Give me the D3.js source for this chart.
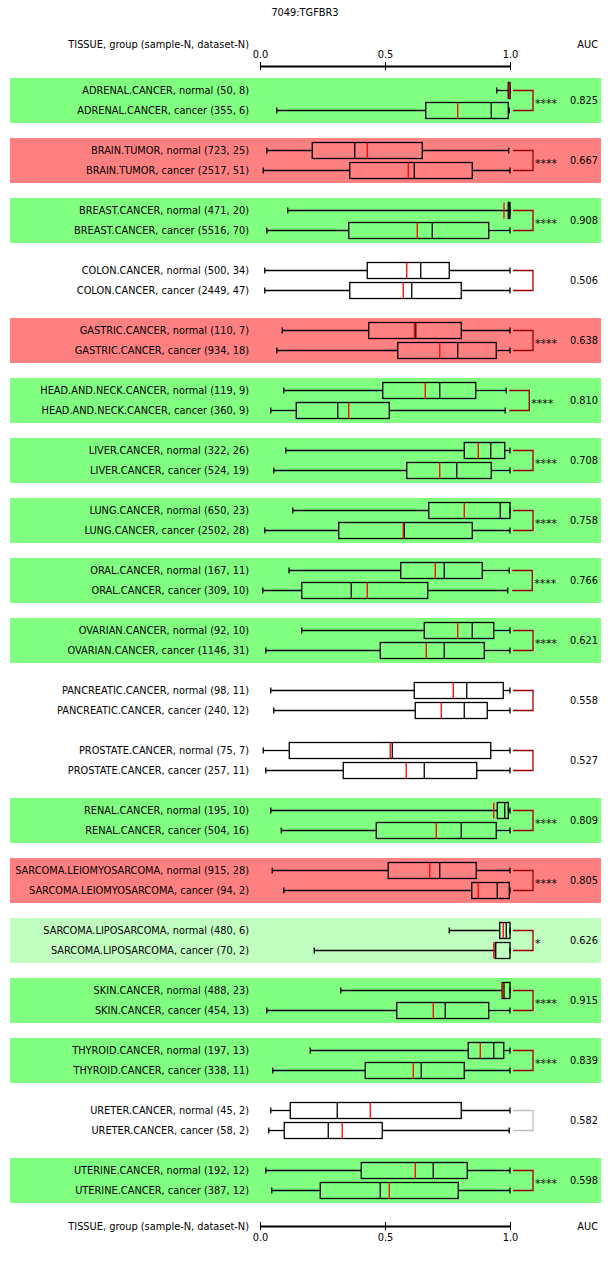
<!DOCTYPE html>
<html>
<head>
<meta charset="utf-8">
<title>7049:TGFBR3</title>
<script src="https://cdn.jsdelivr.net/npm/d3@7"></script>
<style>
  body { margin: 0; background: #fff; }
  svg { display: block; font-family: "DejaVu Sans", sans-serif; }
</style>
</head>
<body>
<div id="chart"></div>
<script>
// Data
const tissues = ["ADRENAL.CANCER", "BRAIN.TUMOR", "BREAST.CANCER", "COLON.CANCER", "GASTRIC.CANCER",
  "HEAD.AND.NECK.CANCER", "LIVER.CANCER", "LUNG.CANCER", "ORAL.CANCER", "OVARIAN.CANCER",
  "PANCREATIC.CANCER", "PROSTATE.CANCER", "RENAL.CANCER", "SARCOMA.LEIOMYOSARCOMA", "SARCOMA.LIPOSARCOMA",
  "SKIN.CANCER", "THYROID.CANCER", "URETER.CANCER", "UTERINE.CANCER"];
const normalN = ["50, 8", "723, 25", "471, 20", "500, 34", "110, 7", "119, 9", "322, 26", "650, 23", "167, 11", "92, 10",
  "98, 11", "75, 7", "195, 10", "915, 28", "480, 6", "488, 23", "197, 13", "45, 2", "192, 12"];
const cancerN = ["355, 6", "2517, 51", "5516, 70", "2449, 47", "934, 18", "360, 9", "524, 19", "2502, 28", "309, 10", "1146, 31",
  "240, 12", "257, 11", "504, 16", "94, 2", "70, 2", "454, 13", "338, 11", "58, 2", "387, 12"];
// [min, q1, median, q3, max, mean]
const normalBox = [
  [0.947, 0.993, 0.998, 1.0, 1.0, 0.997],
  [0.027, 0.209, 0.379, 0.649, 0.995, 0.429],
  [0.111, 0.993, 0.997, 1.0, 1.0, 0.976],
  [0.019, 0.429, 0.643, 0.757, 1.0, 0.587],
  [0.089, 0.435, 0.623, 0.805, 1.0, 0.617],
  [0.095, 0.491, 0.719, 0.863, 0.985, 0.661],
  [0.103, 0.817, 0.923, 0.979, 1.0, 0.873],
  [0.131, 0.675, 0.961, 1.0, 1.0, 0.817],
  [0.116, 0.563, 0.737, 0.889, 0.997, 0.701],
  [0.167, 0.657, 0.849, 0.935, 1.0, 0.791],
  [0.043, 0.617, 0.827, 0.973, 1.0, 0.773],
  [0.013, 0.117, 0.529, 0.923, 1.0, 0.521],
  [0.043, 0.949, 0.979, 0.993, 1.0, 0.935],
  [0.049, 0.513, 0.719, 0.865, 1.0, 0.679],
  [0.757, 0.959, 0.985, 1.0, 1.0, 0.973],
  [0.323, 0.969, 0.976, 1.0, 1.0, 0.969],
  [0.201, 0.833, 0.935, 0.975, 1.0, 0.881],
  [0.043, 0.121, 0.309, 0.805, 1.0, 0.441],
  [0.023, 0.405, 0.693, 0.829, 1.0, 0.621]
];
const cancerBox = [
  [0.067, 0.663, 0.925, 0.993, 0.997, 0.791],
  [0.013, 0.359, 0.617, 0.849, 1.0, 0.593],
  [0.027, 0.355, 0.689, 0.915, 1.0, 0.629],
  [0.019, 0.359, 0.607, 0.805, 1.0, 0.573],
  [0.067, 0.551, 0.791, 0.945, 1.0, 0.719],
  [0.043, 0.145, 0.311, 0.517, 0.981, 0.355],
  [0.055, 0.587, 0.787, 0.925, 1.0, 0.719],
  [0.019, 0.315, 0.577, 0.849, 1.0, 0.573],
  [0.011, 0.167, 0.365, 0.671, 0.991, 0.429],
  [0.023, 0.481, 0.737, 0.897, 1.0, 0.665],
  [0.055, 0.621, 0.817, 0.909, 1.0, 0.725],
  [0.023, 0.333, 0.657, 0.867, 1.0, 0.585],
  [0.085, 0.465, 0.805, 0.945, 1.0, 0.705],
  [0.095, 0.847, 0.949, 0.997, 1.0, 0.873],
  [0.217, 0.941, 0.943, 1.0, 1.0, 0.935],
  [0.027, 0.547, 0.741, 0.915, 1.0, 0.693],
  [0.051, 0.421, 0.645, 0.817, 1.0, 0.613],
  [0.035, 0.097, 0.273, 0.489, 0.997, 0.329],
  [0.047, 0.241, 0.481, 0.793, 1.0, 0.517]
];
const aucValues = [0.825, 0.667, 0.908, 0.506, 0.638, 0.810, 0.708, 0.758, 0.766, 0.621,
  0.558, 0.527, 0.809, 0.805, 0.626, 0.915, 0.839, 0.582, 0.598];
const signif = ["****", "****", "****", "", "****", "****", "****", "****", "****", "****",
  "", "", "****", "****", "*", "****", "****", "na", "****"];
// which group is higher: "normal", "cancer", "normal-weak", "none"
const direction = ["normal", "cancer", "normal", "none", "cancer", "normal", "normal", "normal", "normal", "normal",
  "none", "none", "normal", "cancer", "normal-weak", "normal", "normal", "none", "normal"];
const axisTicks = [0, 0.5, 1.0];

const W = 610, H = 1270;
const FS = 9.8;
const bgColor = { "normal": "#80ff80", "cancer": "#ff8080", "normal-weak": "#c0ffc0", "none": "#ffffff" };

const svg = d3.select("#chart").append("svg")
  .attr("width", W).attr("height", H);

const x = d3.scaleLinear().domain([0, 1]).range([260, 510]);
const y = d3.scaleBand().domain(tissues).range([78, 1203]).paddingInner(0.25).paddingOuter(0);

// Title
svg.append("text").attr("x", 305).attr("y", 16).attr("text-anchor", "middle")
  .attr("font-size", FS).text("7049:TGFBR3");

// Header / footer labels + axes
function headerRow(yAxis, axisGen, labelY) {
  svg.append("text").attr("x", 249).attr("y", labelY).attr("text-anchor", "end")
    .attr("font-size", FS).text("TISSUE, group (sample-N, dataset-N)");
  svg.append("text").attr("x", 598).attr("y", labelY).attr("text-anchor", "end")
    .attr("font-size", FS).text("AUC");
  const g = svg.append("g").attr("transform", `translate(0,${yAxis})`)
    .call(axisGen.scale(x).tickValues(axisTicks).tickFormat(d3.format(".1f")).tickSize(4).tickSizeOuter(0).tickPadding(4));
  g.select(".domain").attr("stroke", "#000").attr("stroke-width", 2);
  g.selectAll(".tick line").attr("y1", -4).attr("y2", 4).attr("stroke", "#000");
  g.selectAll("text").attr("font-size", FS).attr("font-family", "DejaVu Sans, sans-serif").attr("fill", "#000");
}
headerRow(66, d3.axisTop(), 48);
headerRow(1226, d3.axisBottom(), 1230);

// Panels
const panels = svg.selectAll("g.panel").data(tissues).enter().append("g")
  .attr("class", "panel")
  .attr("transform", d => `translate(0,${y(d)})`);

panels.append("rect").attr("x", 10).attr("y", 0).attr("width", 591).attr("height", y.bandwidth())
  .attr("fill", (d, i) => bgColor[direction[i]]);

panels.each(function(t, i) {
  const g = d3.select(this);
  const rows = [
    { label: `${t}, normal (${normalN[i]})`, s: normalBox[i], cy: 12.5 },
    { label: `${t}, cancer (${cancerN[i]})`, s: cancerBox[i], cy: 32.5 }
  ];
  rows.forEach(r => {
    const [mn, q1, med, q3, mx, mean] = r.s;
    g.append("text").attr("x", 249).attr("y", r.cy + 3.5).attr("text-anchor", "end")
      .attr("font-size", FS).text(r.label);
    const line = (x1, y1, x2, y2, c) => g.append("line")
      .attr("x1", x1).attr("y1", y1).attr("x2", x2).attr("y2", y2)
      .attr("stroke", c || "#000").attr("stroke-width", 1.3);
    line(x(mn), r.cy, x(q1), r.cy);
    line(x(q3), r.cy, x(mx), r.cy);
    line(x(mn), r.cy - 3, x(mn), r.cy + 3);
    line(x(mx), r.cy - 3, x(mx), r.cy + 3);
    g.append("rect").attr("x", x(q1)).attr("y", r.cy - 8)
      .attr("width", Math.max(x(q3) - x(q1), 0.5)).attr("height", 16)
      .attr("fill", "none").attr("stroke", "#000").attr("stroke-width", 1.3);
    line(x(med), r.cy - 8, x(med), r.cy + 8);
    line(x(mean), r.cy - 8, x(mean), r.cy + 8, "#ff0000");
  });

  // bracket
  const bx = x(Math.max(normalBox[i][4], cancerBox[i][4])) + 3;
  g.append("path")
    .attr("d", `M${bx},12.5H${bx + 20}V32.5H${bx}`)
    .attr("fill", "none")
    .attr("stroke", signif[i] === "na" ? "#c0c0c0" : "#990000")
    .attr("stroke-width", 1.3);
  if (signif[i] && signif[i] !== "na") {
    g.append("text").attr("x", bx + 22).attr("y", 29).attr("font-size", 11).text(signif[i]);
  }
  g.append("text").attr("x", 598).attr("y", 26).attr("text-anchor", "end")
    .attr("font-size", FS).text(d3.format(".3f")(aucValues[i]));
});
</script>
</body>
</html>
